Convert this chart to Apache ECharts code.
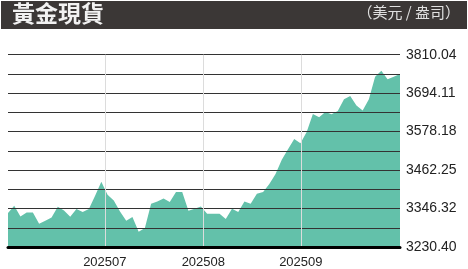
<!DOCTYPE html>
<html>
<head>
<meta charset="utf-8">
<script src="https://cdn.jsdelivr.net/npm/echarts@6/dist/echarts.min.js"></script>
<style>
html,body{margin:0;padding:0;background:#fff;}
#chart{width:468px;height:269px;}
</style>
</head>
<body>
<div id="chart"></div>
<script>
const title = '黃金現貨';
const unit = '（美元 / 盎司）';
const prices = [
  3332.7, 3354.7, 3322.5, 3334.5, 3334.5, 3300.5, 3309.6, 3319.5, 3351.7, 3340.6,
  3321.6, 3344.8, 3335.7, 3344.8, 3384.8, 3426.9, 3387.8, 3370.6, 3337.5, 3309.6,
  3320.7, 3276.4, 3287.6, 3360.7, 3367.6, 3376.7, 3365.8, 3395.9, 3395.9, 3339.6,
  3345.7, 3352.6, 3330.6, 3330.6, 3330.6, 3314.7, 3345.7, 3335.7, 3367.6, 3360.7,
  3390.8, 3395.9, 3420.0, 3450.1, 3493.1, 3525.3, 3556.3, 3543.4, 3577.4, 3631.6,
  3621.6, 3637.6, 3630.7, 3640.6, 3675.8, 3685.8, 3656.6, 3641.5, 3675.8, 3743.8,
  3761.9, 3736.0, 3743.8, 3752.0
];
const monthLabels = ['202507', '202508', '202509'];
const monthPositions = [15.56, 31.39, 47.06];
const yMin = 3230.40;
const yMax = 3810.04;
const yGridValues = [3230.40, 3288.36, 3346.32, 3404.29, 3462.25, 3520.22, 3578.18, 3636.14, 3694.11, 3752.07, 3810.04];
const yLabelValues = [3230.40, 3346.32, 3462.25, 3578.18, 3694.11, 3810.04];

const chart = echarts.init(document.getElementById('chart'), null, {renderer: 'canvas'});
const fontFamily = '"Liberation Sans", Arial, sans-serif';
chart.setOption({
  animation: false,
  backgroundColor: '#fff',
  graphic: [
    {type: 'rect', shape: {x: 1, y: 1, width: 466, height: 28}, style: {fill: '#3b3736'}},
    {type: 'text', left: 12, top: 2, style: {text: title, fill: '#f2f2f2', font: 'bold 23px "Noto Sans CJK TC", sans-serif'}},
    {type: 'text', right: 8, top: 5, style: {text: unit, fill: '#e0e0e0', font: '15px "Noto Sans CJK TC", sans-serif'}}
  ],
  grid: {left: 8, right: 68, top: 54.7, bottom: 21.7, containLabel: false},
  xAxis: {
    type: 'value', min: 0, max: prices.length - 1, z: 5,
    axisLine: {show: true, onZero: false, lineStyle: {color: '#000', width: 3}},
    axisTick: {show: false, customValues: monthPositions},
    splitLine: {show: true, lineStyle: {color: '#dcdcdc', width: 1}},
    axisLabel: {
      customValues: monthPositions, margin: 9, color: '#222', fontSize: 13, fontFamily: fontFamily,
      formatter: function (v) { const i = monthPositions.indexOf(v); return i >= 0 ? monthLabels[i] : ''; }
    }
  },
  yAxis: {
    type: 'value', position: 'right', min: yMin, max: yMax, z: 5,
    axisLine: {show: false},
    axisTick: {show: false, customValues: yGridValues},
    splitLine: {show: true, lineStyle: {color: '#333', width: 1}},
    axisLabel: {
      customValues: yLabelValues, margin: 6, color: '#222', fontSize: 14, fontFamily: fontFamily,
      formatter: function (v) { return v.toFixed(2); }
    }
  },
  series: [{
    type: 'line',
    data: prices.map(function (p, i) { return [i, p]; }),
    showSymbol: false,
    lineStyle: {width: 0},
    areaStyle: {color: '#63c1aa', opacity: 1},
    z: 2
  }]
});
</script>
</body>
</html>
